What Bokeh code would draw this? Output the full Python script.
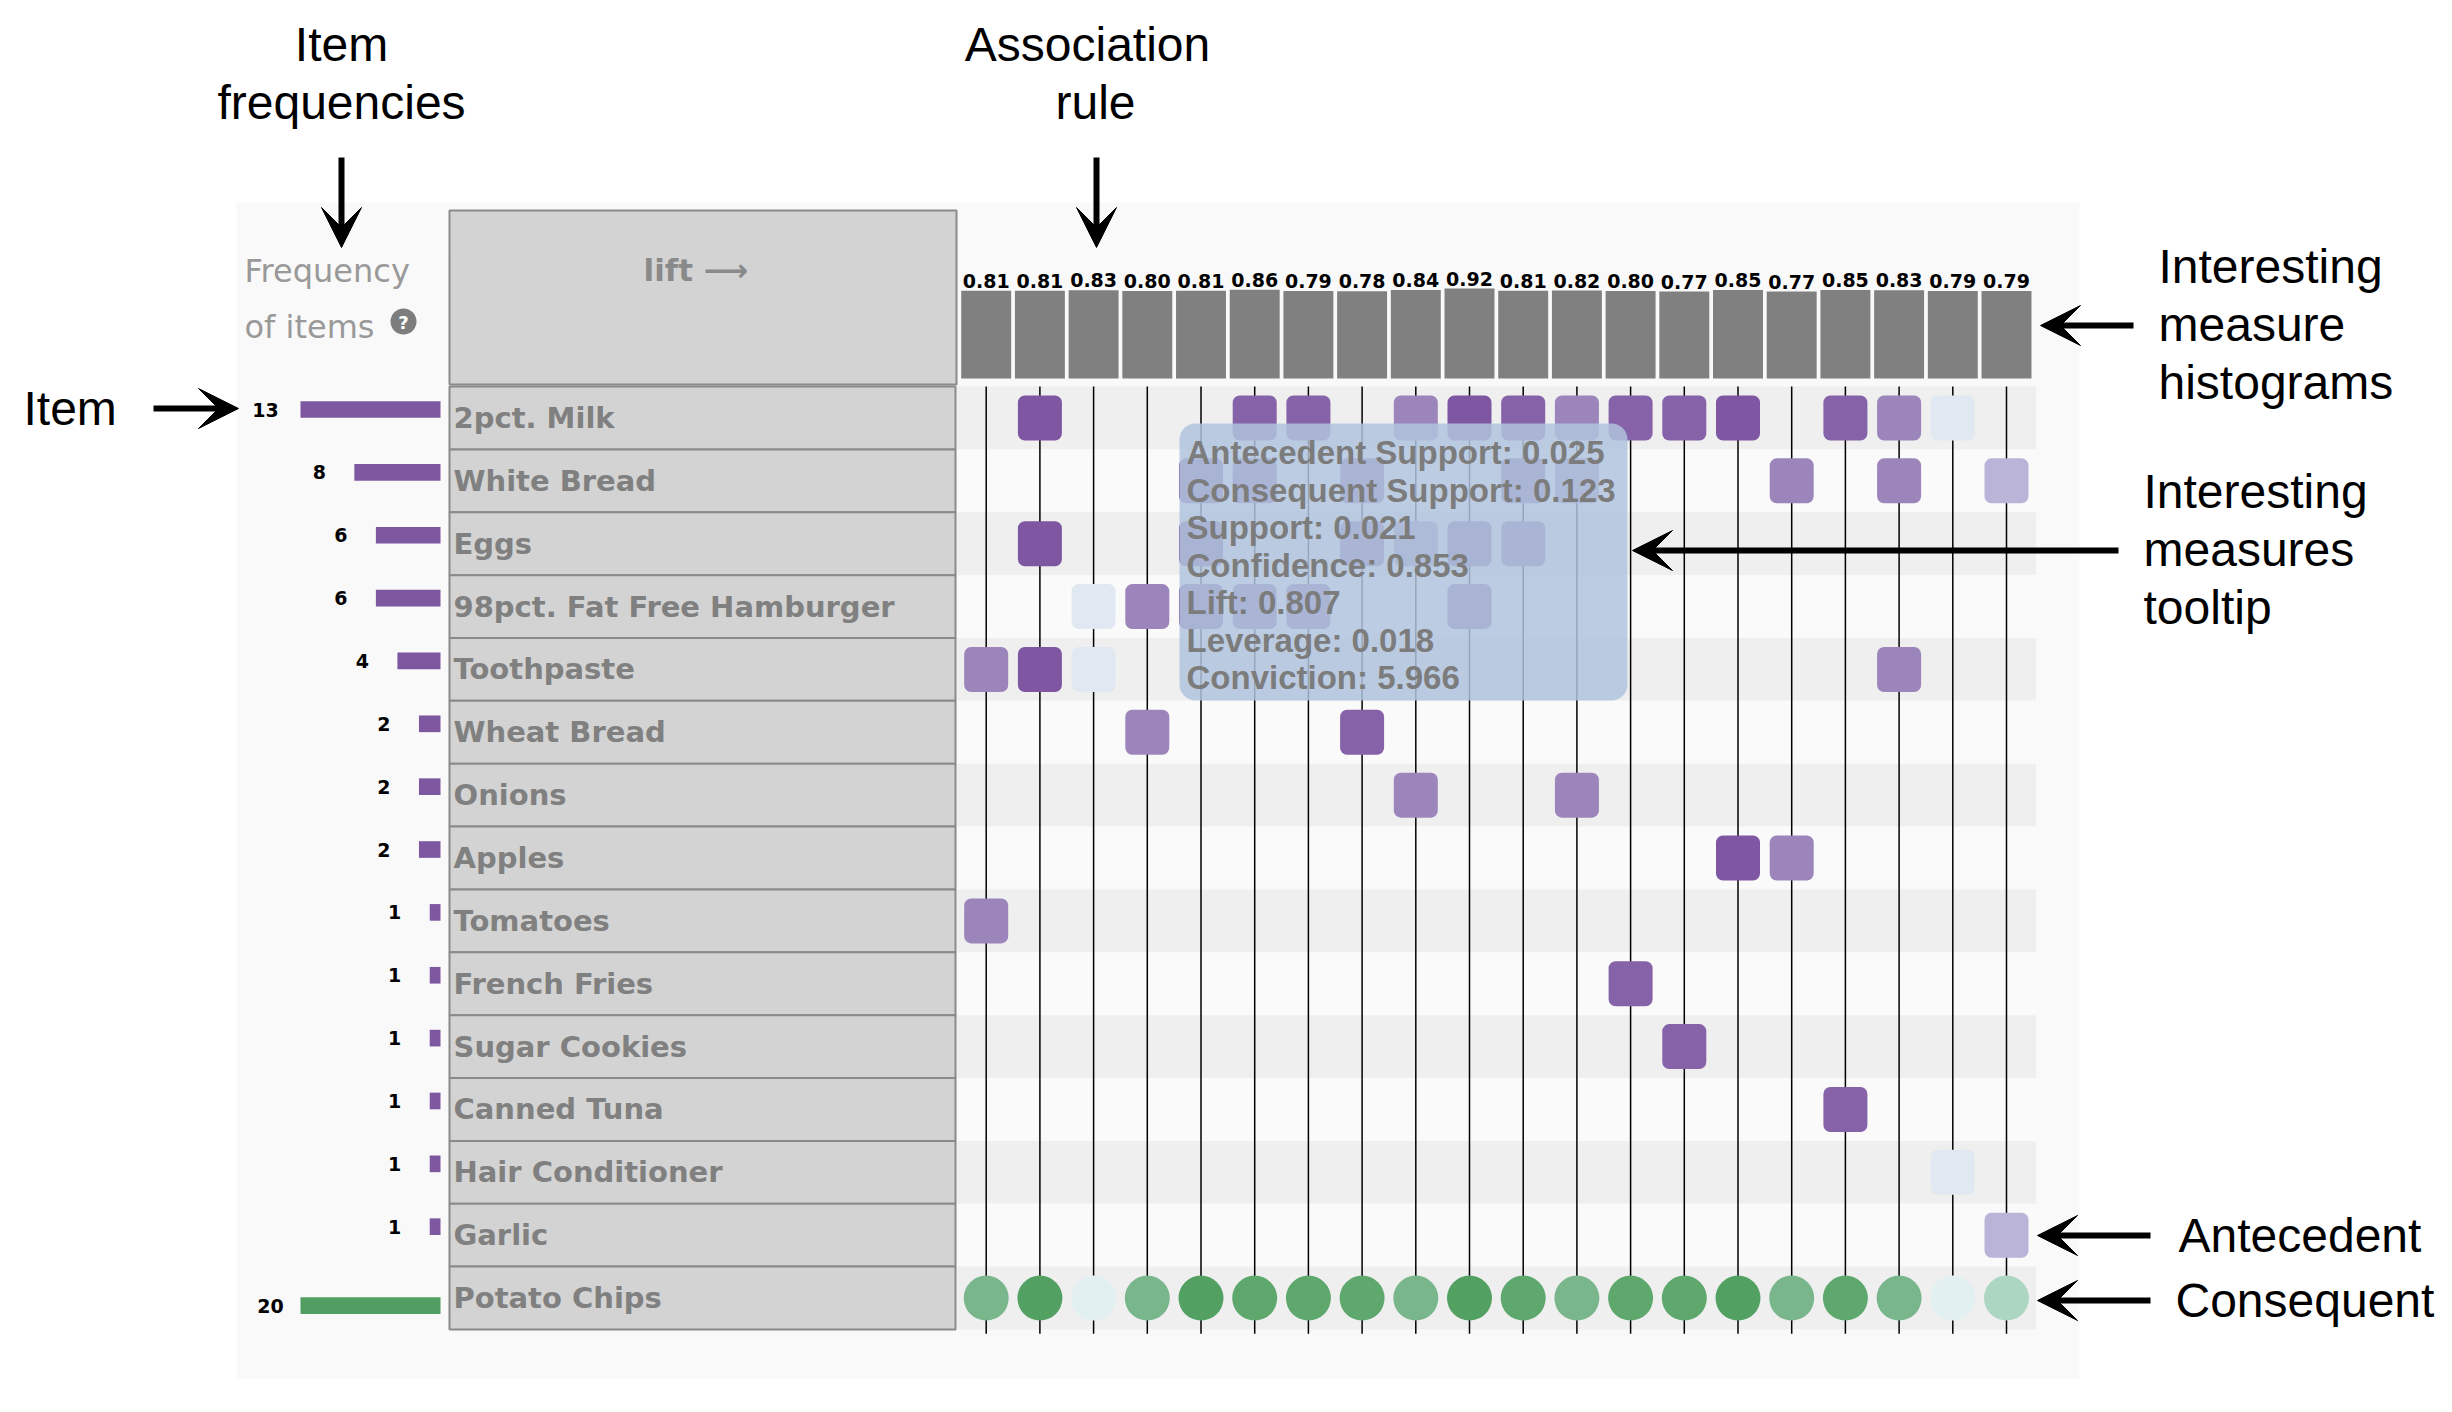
from bokeh.plotting import figure
from bokeh.models import Range1d, Arrow, VeeHead, ColumnDataSource
from bokeh.transform import dodge
from bokeh.core.properties import value
from bokeh.embed import file_html
from bokeh.resources import INLINE

# ---------------- data ----------------
items = ["2pct. Milk", "White Bread", "Eggs", "98pct. Fat Free Hamburger", "Toothpaste",
         "Wheat Bread", "Onions", "Apples", "Tomatoes", "French Fries", "Sugar Cookies",
         "Canned Tuna", "Hair Conditioner", "Garlic", "Potato Chips"]
item_freq = [13, 8, 6, 6, 4, 2, 2, 2, 1, 1, 1, 1, 1, 1, 20]
item_role = ["antecedent"] * 14 + ["consequent"]

rule_lift = [0.81, 0.81, 0.83, 0.80, 0.81, 0.86, 0.79, 0.78, 0.84, 0.92,
             0.81, 0.82, 0.80, 0.77, 0.85, 0.77, 0.85, 0.83, 0.79, 0.79]
# colour level of each rule (0 = strongest / darkest ... 4 = weakest / palest)
rule_level = [2, 0, 4, 2, 0, 1, 1, 1, 2, 0, 1, 2, 1, 1, 0, 2, 1, 2, 4, 3]
rule_antecedents = [
    ["Toothpaste", "Tomatoes"],
    ["2pct. Milk", "Eggs", "Toothpaste"],
    ["98pct. Fat Free Hamburger", "Toothpaste"],
    ["98pct. Fat Free Hamburger", "Wheat Bread"],
    ["White Bread", "Eggs", "98pct. Fat Free Hamburger"],
    ["2pct. Milk", "White Bread", "98pct. Fat Free Hamburger"],
    ["2pct. Milk", "98pct. Fat Free Hamburger"],
    ["White Bread", "Eggs", "Wheat Bread"],
    ["2pct. Milk", "Eggs", "Onions"],
    ["2pct. Milk", "Eggs", "98pct. Fat Free Hamburger"],
    ["2pct. Milk", "White Bread", "Eggs"],
    ["2pct. Milk", "White Bread", "Onions"],
    ["2pct. Milk", "French Fries"],
    ["2pct. Milk", "Sugar Cookies"],
    ["2pct. Milk", "Apples"],
    ["White Bread", "Apples"],
    ["2pct. Milk", "Canned Tuna"],
    ["2pct. Milk", "White Bread", "Toothpaste"],
    ["2pct. Milk", "Hair Conditioner"],
    ["White Bread", "Garlic"],
]
rule_consequent = ["Potato Chips"] * 20

tooltip_measures = ["Antecedent Support", "Consequent Support", "Support", "Confidence",
                    "Lift", "Leverage", "Conviction"]
tooltip_values = ["0.025", "0.123", "0.021", "0.853", "0.807", "0.018", "5.966"]

PURPLE = ["#7e56a2", "#8662a8", "#9c85bb", "#bab4d8", "#e0e9f1"]
GREEN = ["#53a063", "#5ea86e", "#79b68c", "#acd6c2", "#e3f0f2"]

# ---------------- geometry ----------------
W, H, M = 2436, 1396, 0


def xr(anchor_val, anchor_page, ppu):
    s = anchor_val - (anchor_page - M) / ppu
    return Range1d(start=s, end=s + W / ppu)


def yr(anchor_val, anchor_page, ppu_down):
    top = anchor_val - (anchor_page - M) / ppu_down
    return Range1d(start=top + H / ppu_down, end=top)


p = figure(width=W, height=H, x_range=xr(0, 985.7, 53.7), y_range=yr(0, 417.5, 62.86),
           output_backend="svg", toolbar_location=None, min_border=0,
           x_axis_location=None, y_axis_location=None,
           outline_line_color=None, background_fill_color="white", border_fill_color="white")
p.grid.visible = False
hist_anchor_page, hist_ppu = 288, 20.0
p.extra_x_ranges = {"px": xr(0, 0, 1), "fa": xr(0, 440, -10.77), "fc": xr(0, 440, -7.0)}
p.extra_y_ranges = {"px": yr(0, 0, 1), "hist": yr(max(rule_lift), hist_anchor_page, -hist_ppu)}
hist_floor = max(rule_lift) - (378 - hist_anchor_page) / hist_ppu

n_items, n_rules = len(items), len(rule_lift)
row_of = {it: i for i, it in enumerate(items)}
rows = list(range(n_items))
rules = list(range(n_rules))

PX = dict(x_range_name="px", y_range_name="px")
WIDE = value("DejaVu Sans")
ARIAL = value("Liberation Sans")

# panel background
p.quad(left=[236], right=[2079], top=[202], bottom=[1378], fill_color="#f9f9f9", line_color=None, **PX)

# matrix stripes
p.quad(left=-0.55, right=n_rules - 1 + 0.55,
       top=[r - 0.5 for r in rows], bottom=[r + 0.5 for r in rows],
       fill_color=["#efefef" if r % 2 == 0 else "#fafafa" for r in rows], line_color=None)

# label header box
p.quad(left=[449], right=[956], top=[210], bottom=[384], fill_color="#d3d3d3",
       line_color="#8a8a8a", line_width=2, **PX)
p.text(x=[643], y=[269], text=["lift \u27f6"], text_font=WIDE, text_font_style="bold",
       text_font_size="31px", text_color="#8a8a8a", text_baseline="middle", **PX)

# frequency header
p.text(x=[244, 244], y=[270, 326], text=["Frequency", "of items"], text_font=WIDE,
       text_font_size="32px", text_color="#999999", text_baseline="middle", **PX)
p.scatter(x=[403], y=[321], size=26, fill_color="#7d7d7d", line_color=None, **PX)
p.text(x=[403], y=[322], text=["?"], text_font=WIDE, text_font_style="bold", text_font_size="18px",
       text_color="white", text_align="center", text_baseline="middle", **PX)

# label cells
p.quad(left=449, right=955, top=[r - 0.5 for r in rows], bottom=[r + 0.5 for r in rows],
       fill_color="#d3d3d3", line_color="#8a8a8a", line_width=2, x_range_name="px")
p.text(x=453, y=rows, text=items, text_font=WIDE, text_font_style="bold", text_font_size="29px",
       text_color="#808080", text_baseline="middle", x_range_name="px")

# frequency bars
ant_rows = [i for i in rows if item_role[i] == "antecedent"]
con_rows = [i for i in rows if item_role[i] == "consequent"]
sa = ColumnDataSource(dict(y=ant_rows, f=[item_freq[i] for i in ant_rows],
                           t=[str(item_freq[i]) for i in ant_rows]))
sc = ColumnDataSource(dict(y=con_rows, f=[item_freq[i] for i in con_rows],
                           t=[str(item_freq[i]) for i in con_rows]))
p.hbar(y=dodge("y", -0.135, range=p.y_range), left=0, right="f", height=0.265, source=sa,
       fill_color="#7e57a1", line_color=None, x_range_name="fa")
p.hbar(y=dodge("y", 0.12, range=p.y_range), left=0, right="f", height=0.265, source=sc,
       fill_color="#519d62", line_color=None, x_range_name="fc")
p.text(x="f", y=dodge("y", -0.135, range=p.y_range), text="t", source=sa, x_offset=-35,
       text_font=WIDE, text_font_style="bold", text_font_size="19px", text_color="black",
       text_align="center", text_baseline="middle", x_range_name="fa")
p.text(x="f", y=dodge("y", 0.12, range=p.y_range), text="t", source=sc, x_offset=-30,
       text_font=WIDE, text_font_style="bold", text_font_size="19px", text_color="black",
       text_align="center", text_baseline="middle", x_range_name="fc")

# rule lines
p.segment(x0=rules, y0=-0.5, x1=rules, y1=n_items - 0.5 + 0.07, line_color="black", line_width=1.5)

# antecedent squares
ax, ay, ac = [], [], []
for r, ants in enumerate(rule_antecedents):
    for a in ants:
        ax.append(r)
        ay.append(row_of[a])
        ac.append(PURPLE[rule_level[r]])
p.rect(x=ax, y=ay, width=44, height=45, width_units="screen", height_units="screen",
       border_radius=7, fill_color=ac, line_color=None)

# consequent circles
p.scatter(x=rules, y=[row_of[c] for c in rule_consequent], size=45,
          fill_color=[GREEN[l] for l in rule_level], line_color=None)

# lift histogram
p.vbar(x=rules, top=rule_lift, bottom=hist_floor, width=0.93, fill_color="#808080",
       line_color=None, y_range_name="hist")
p.text(x=rules, y=rule_lift, text=["%.2f" % v for v in rule_lift], y_offset=-3,
       text_font=WIDE, text_font_style="bold", text_font_size="19px", text_color="black",
       text_align="center", text_baseline="bottom", y_range_name="hist")

# tooltip
p.quad(left=[1179], right=[1627], top=[423], bottom=[700], border_radius=16,
       fill_color="#b0c4de", fill_alpha=0.85, line_color=None, **PX)
p.text(x=1186, y=[452 + 37.5 * k for k in range(len(tooltip_measures))],
       text=["%s: %s" % (n, v) for n, v in zip(tooltip_measures, tooltip_values)],
       text_font=ARIAL, text_font_style="bold", text_font_size="33px", text_color="#7c7c7c",
       text_baseline="middle", **PX)

# annotations
notes = [
    (341, 44, "Item", "center"), (341, 102, "frequencies", "center"),
    (1087, 44, "Association", "center"), (1095, 102, "rule", "center"),
    (23, 408, "Item", "left"),
    (2158, 266, "Interesting", "left"), (2158, 324, "measure", "left"), (2158, 382, "histograms", "left"),
    (2143, 491, "Interesting", "left"), (2143, 549, "measures", "left"), (2143, 607, "tooltip", "left"),
    (2178, 1235, "Antecedent", "left"), (2175, 1300, "Consequent", "left"),
]
for x, y, t, al in notes:
    p.text(x=[x], y=[y], text=[t], text_font=ARIAL, text_font_size="48px", text_color="black",
           text_align=al, text_baseline="middle", **PX)

arrows = [(341, 157, 341, 247), (1096, 157, 1096, 247), (153, 408, 238, 408),
          (2133, 325, 2040, 325), (2118, 550, 1632, 550),
          (2150, 1235, 2037, 1235), (2150, 1300, 2037, 1300)]
for x0, y0, x1, y1 in arrows:
    p.add_layout(Arrow(x_start=x0, y_start=y0, x_end=x1, y_end=y1, line_width=6, line_color="black",
                       end=VeeHead(size=40, fill_color="black", line_color="black"),
                       x_range_name="px", y_range_name="px"))

open("out.html", "w").write(file_html(p, INLINE, title="Association rules"))
